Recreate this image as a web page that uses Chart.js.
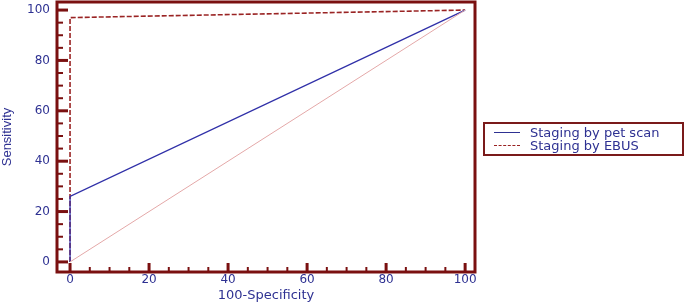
<!DOCTYPE html>
<html>
<head>
<meta charset="utf-8">
<script src="https://cdn.jsdelivr.net/npm/chart.js@4"></script>
<style>
  body { margin: 0; background: #fff; }
  #wrap { position: relative; width: 685px; height: 302px; }
  #legend {
    position: absolute; left: 483px; top: 122px; width: 197px; height: 28px;
    border: 2px solid #7a1a1a; font-family: "DejaVu Sans", sans-serif;
    font-size: 13px; color: #2e3192; line-height: 13px; padding-top: 2px; box-sizing: content-box;
  }
  .row { display: flex; align-items: center; height: 13px; }
  .sw { width: 26px; margin: 0 10px 0 9px; border-top: 1px solid #2e3192; }
  .sw.d { border-top: 1.5px dashed #992222; }
</style>
</head>
<body>
<div id="wrap">
  <canvas id="roc" width="685" height="302"></canvas>
  <div id="legend">
    <div class="row"><span class="sw"></span>Staging by pet scan</div>
    <div class="row"><span class="sw d"></span>Staging by EBUS</div>
  </div>
</div>
<script>
const specX = [0, 0, 100];
const petSens = [0, 26, 100];
const ebusSens = [0, 97, 100];
const refX = [0, 100];
const refY = [0, 100];
const tickLabels = [0, 20, 40, 60, 80, 100];

const frameColor = "#7a1010";
const textColor = "#2e3192";

const toPoints = (xs, ys) => xs.map((x, i) => ({ x: x, y: ys[i] }));

// frame and inward tick marks
const framePlugin = {
    id: "frame",
    afterDraw(chart) {
        const { ctx, chartArea: a, scales } = chart;
        ctx.save();
        ctx.strokeStyle = frameColor;
        ctx.lineWidth = 3;
        ctx.strokeRect(a.left, a.top, a.right - a.left, a.bottom - a.top);
        for (let v = 0; v <= 100; v += 5) {
            const major = v % 20 === 0;
            const py = scales.y.getPixelForValue(v);
            ctx.lineWidth = major ? 3 : 2;
            ctx.beginPath();
            ctx.moveTo(a.left, py);
            ctx.lineTo(a.left + (major ? 11 : 6), py);
            ctx.stroke();
            const px = scales.x.getPixelForValue(v);
            ctx.beginPath();
            ctx.moveTo(px, a.bottom);
            ctx.lineTo(px, a.bottom - (major ? 9 : 5));
            ctx.stroke();
        }
        ctx.restore();
    }
};

const tickFont = { family: "'DejaVu Sans', sans-serif", size: 12 };
const titleFont = { family: "'DejaVu Sans', sans-serif", size: 13, lineHeight: 1 };

new Chart(document.getElementById("roc").getContext("2d"), {
    type: "scatter",
    data: {
        datasets: [
            {
                label: "Reference",
                data: toPoints(refX, refY),
                showLine: true,
                borderColor: "#e4a8a8",
                borderWidth: 1,
                pointRadius: 0
            },
            {
                label: "Staging by pet scan",
                data: toPoints(specX, petSens),
                showLine: true,
                borderColor: "#3030a8",
                borderWidth: 1.3,
                pointRadius: 0
            },
            {
                label: "Staging by EBUS",
                data: toPoints(specX, ebusSens),
                showLine: true,
                borderColor: "#9a2424",
                borderWidth: 1.6,
                borderDash: [5, 2],
                pointRadius: 0
            }
        ]
    },
    options: {
        responsive: false,
        animation: false,
        layout: { padding: { top: 2, right: 210, left: 0, bottom: 0 } },
        scales: {
            x: {
                type: "linear",
                min: -3.3,
                max: 102.5,
                grid: { display: false, drawTicks: false },
                border: { display: false },
                afterBuildTicks: (s) => { s.ticks = tickLabels.map(v => ({ value: v })); },
                afterFit: (s) => { s.height = 30; s.paddingLeft = 0; s.paddingRight = 0; },
                ticks: { color: textColor, font: tickFont, padding: 1, maxRotation: 0 },
                title: { display: true, text: "100-Specificity", color: textColor, font: titleFont, padding: 0 }
            },
            y: {
                type: "linear",
                min: -4,
                max: 103.2,
                grid: { display: false, drawTicks: false },
                border: { display: false },
                afterBuildTicks: (s) => { s.ticks = tickLabels.map(v => ({ value: v })); },
                afterFit: (s) => { s.width = 57; s.paddingTop = 0; s.paddingBottom = 0; },
                ticks: { color: textColor, font: tickFont, padding: 7 },
                title: {
                    display: true, text: "Sensitivity", color: textColor,
                    font: { family: "'Liberation Sans Narrow', 'Liberation Sans', Arial, sans-serif", size: 13, lineHeight: 1.2 },
                    padding: 0
                }
            }
        },
        plugins: {
            legend: { display: false },
            tooltip: { enabled: false }
        }
    },
    plugins: [framePlugin]
});
</script>
</body>
</html>
